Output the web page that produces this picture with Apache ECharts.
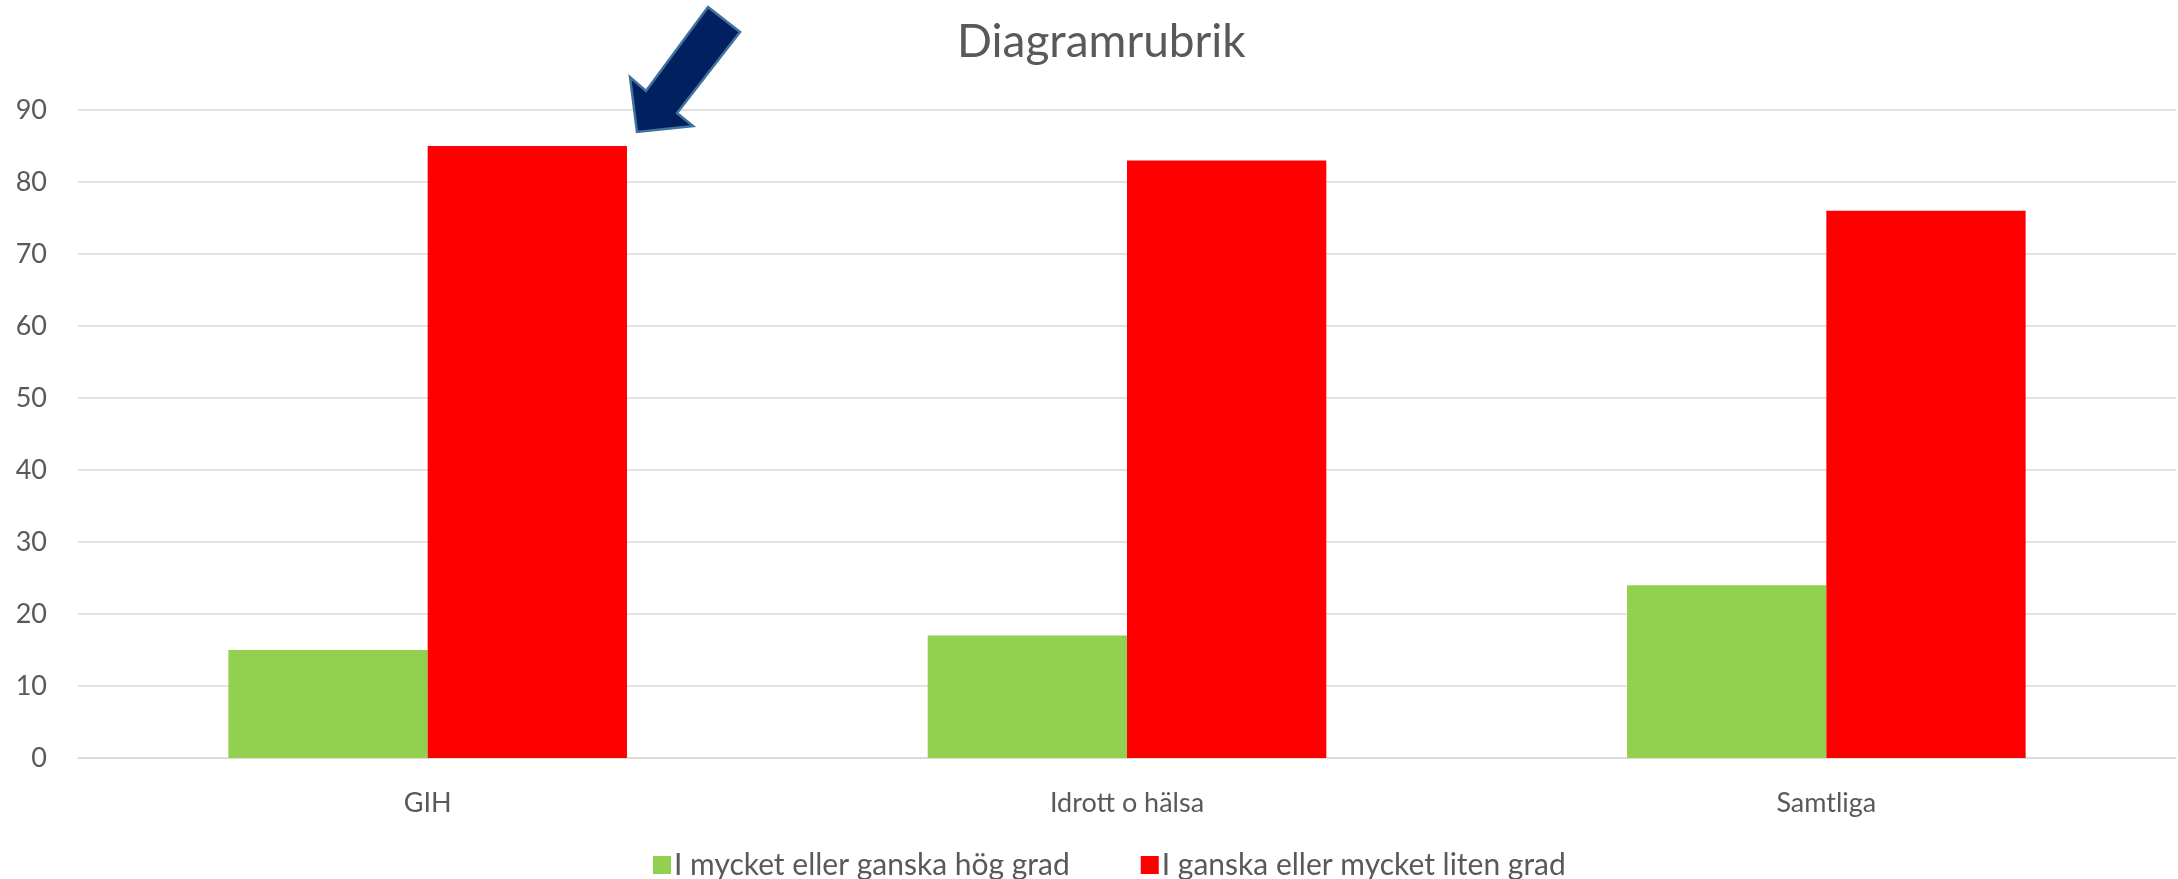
<!DOCTYPE html>
<html>

<head>
    <meta charset="utf-8">
    <script type="text/javascript" src="https://cdn.jsdelivr.net/npm/echarts@6/dist/echarts.min.js"></script>
    <style>
        html,
        body {
            margin: 0;
            padding: 0;
            background: #fff;
        }

        #container {
            width: 2178px;
            height: 879px;
        }
    </style>
</head>

<body>
    <div id="container"></div>
</body>
<script type="text/javascript">
    // data
    var categories = ['GIH', 'Idrott o hälsa', 'Samtliga'];
    var seriesNames = ['I mycket eller ganska hög grad', 'I ganska eller mycket liten grad'];
    var hogGrad = [15, 17, 24];
    var litenGrad = [85, 83, 76];
    var yTicks = [0, 10, 20, 30, 40, 50, 60, 70, 80, 90];

    var textColor = '#595959';
    var gridColor = '#D9D9D9';

    var dom = document.getElementById('container');
    var myChart = echarts.init(dom);
    var option = {
        animation: false,
        backgroundColor: '#fff',
        title: {
            text: 'Diagramrubrik',
            left: 952,
            top: 14,
            textStyle: {
                fontFamily: 'Lato',
                fontWeight: 'normal',
                fontSize: 46,
                color: textColor
            }
        },
        legend: {
            left: 648,
            top: 845,
            itemWidth: 18,
            itemHeight: 18,
            itemGap: 71,
            icon: 'rect',
            textStyle: {
                fontFamily: 'Lato',
                fontSize: 30,
                color: textColor,
                padding: [0, 0, 0, -2]
            },
            data: seriesNames
        },
        grid: {
            left: 78,
            right: 2,
            top: 110,
            bottom: 121
        },
        xAxis: {
            type: 'category',
            data: categories,
            axisTick: { show: false },
            axisLine: { lineStyle: { color: gridColor, width: 1.5 } },
            axisLabel: {
                margin: 32,
                fontFamily: 'Lato',
                fontSize: 27,
                color: textColor
            }
        },
        yAxis: {
            type: 'value',
            min: yTicks[0],
            max: yTicks[yTicks.length - 1],
            interval: 10,
            axisLine: { show: false },
            axisTick: { show: false },
            splitLine: { lineStyle: { color: gridColor, width: 1.5 } },
            axisLabel: {
                margin: 31,
                fontFamily: 'Lato',
                fontSize: 27,
                color: textColor
            }
        },
        series: [{
            name: seriesNames[0],
            type: 'bar',
            data: hogGrad,
            barGap: '0%',
            barCategoryGap: '43%',
            itemStyle: { color: '#92D050' }
        }, {
            name: seriesNames[1],
            type: 'bar',
            data: litenGrad,
            barGap: '0%',
            barCategoryGap: '43%',
            itemStyle: { color: '#FF0000' }
        }],
        // pil som pekar på GIH
        graphic: [{
            type: 'polygon',
            shape: {
                points: [[708, 7], [740, 32], [677, 113], [693, 126], [637, 132], [630, 77], [646, 91]]
            },
            style: {
                fill: '#002060',
                stroke: '#41719C',
                lineWidth: 2.5
            },
            z: 100
        }]
    };
    myChart.setOption(option, true);
</script>

</html>
